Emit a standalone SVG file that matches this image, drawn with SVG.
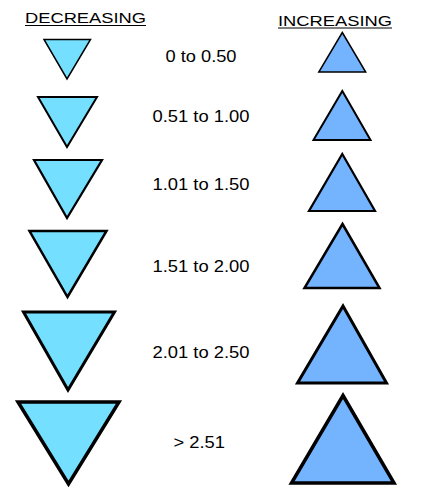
<svg xmlns="http://www.w3.org/2000/svg" width="425" height="487" viewBox="0 0 425 487">
<style>
.dec{fill:#74DFFF;stroke:#000;stroke-linejoin:miter}
.inc{fill:#74B4FF;stroke:#000;stroke-linejoin:miter}
.lbl{font-family:"Liberation Sans",Arial,sans-serif;font-size:16px;fill:#000;text-anchor:middle}
.hdr{font-family:"Liberation Sans",Arial,sans-serif;font-size:15.5px;fill:#000}
.ul{stroke:#000;stroke-width:1}
</style>
<rect width="425" height="487" fill="#fff"/>
<g id="headers">
<text class="hdr" x="25" y="23.3" textLength="121" lengthAdjust="spacingAndGlyphs">DECREASING</text>
<line class="ul" x1="25" y1="25.5" x2="146" y2="25.5"/>
<text class="hdr" x="278" y="25.5" textLength="114" lengthAdjust="spacingAndGlyphs">INCREASING</text>
<line class="ul" x1="278" y1="28" x2="392" y2="28"/>
</g>
<g id="decreasing">
<g id="dec1"><polygon class="dec" stroke-width="1.5" points="44,39.5 90.5,39.5 67,79"/></g>
<g id="dec2"><polygon class="dec" stroke-width="2" points="38,97 97,97 67,147"/></g>
<g id="dec3"><polygon class="dec" stroke-width="2.2" points="34,160 102,160 67,218"/></g>
<g id="dec4"><polygon class="dec" stroke-width="2.5" points="29.5,231 106.5,231 67.5,297"/></g>
<g id="dec5"><polygon class="dec" stroke-width="3" points="23.5,312 114.5,312 68,390"/></g>
<g id="dec6"><polygon class="dec" stroke-width="3.5" points="18,402 119,402 68.5,484"/></g>
</g>
<g id="labels">
<text class="lbl" x="201" y="61.7" textLength="71" lengthAdjust="spacingAndGlyphs">0 to 0.50</text>
<text class="lbl" x="201" y="122.3" textLength="97" lengthAdjust="spacingAndGlyphs">0.51 to 1.00</text>
<text class="lbl" x="201" y="190" textLength="97" lengthAdjust="spacingAndGlyphs">1.01 to 1.50</text>
<text class="lbl" x="201" y="271.7" textLength="97" lengthAdjust="spacingAndGlyphs">1.51 to 2.00</text>
<text class="lbl" x="201" y="357.7" textLength="97" lengthAdjust="spacingAndGlyphs">2.01 to 2.50</text>
<text class="lbl" x="199.2" y="448.3" textLength="51.5" lengthAdjust="spacingAndGlyphs">&gt; 2.51</text>
</g>
<g id="increasing">
<g id="inc1"><polygon class="inc" stroke-width="1.5" points="342.3,32.5 365.7,72 318.8,72"/></g>
<g id="inc2"><polygon class="inc" stroke-width="2" points="342.3,91 370.5,140 313.5,140"/></g>
<g id="inc3"><polygon class="inc" stroke-width="2.2" points="342.3,154 375,211 309,211"/></g>
<g id="inc4"><polygon class="inc" stroke-width="2.5" points="342.5,224 379.5,288 304.5,288"/></g>
<g id="inc5"><polygon class="inc" stroke-width="3" points="343,306 386.5,383 297.5,383"/></g>
<g id="inc6"><polygon class="inc" stroke-width="3.5" points="343,395.5 394,483 291.5,483"/></g>
</g>
</svg>
